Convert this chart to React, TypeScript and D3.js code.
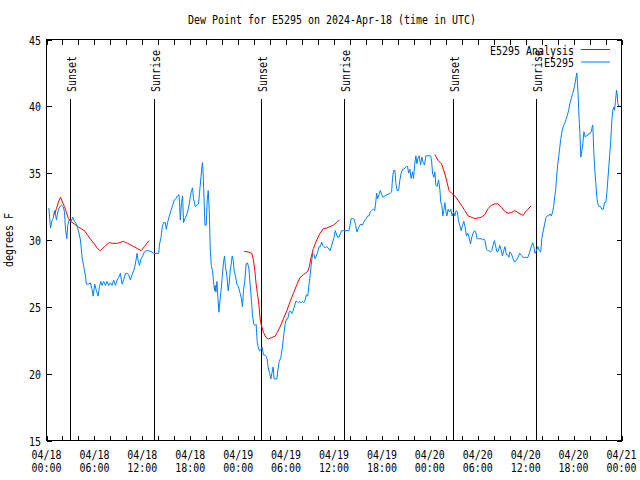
import React from 'react';
import * as d3 from 'd3';

const START = Date.UTC(2024, 3, 18, 0, 0);
const titleText = 'Dew Point for E5295 on 2024-Apr-18 (time in UTC)';
const yAxisLabel = 'degrees F';
const yTicks = [15, 20, 25, 30, 35, 40, 45];
const xMajorHours = [0, 6, 12, 18, 24, 30, 36, 42, 48, 54, 60, 66, 72];
const xMinorHours = d3.range(0, 73, 2);
const sunHours = [2.9, 13.4, 26.9, 37.3, 50.9, 61.3];
const sunLabels = ['Sunset', 'Sunrise', 'Sunset', 'Sunrise', 'Sunset', 'Sunrise'];
const legendNames = ['E5295 Analysis', 'E5295'];
const seriesColors = ['#ff0000', '#0080ff'];

// station observations: [hours since 04/18 00:00 UTC, dew point F]
const station: [number, number][] = [
  [0.29, 32.4], [0.5, 30.9], [0.71, 31.5], [0.84, 31.6], [1.0, 32.2], [1.13, 31.9], [1.25, 31.5], [1.41, 32.1],
  [1.66, 32.5], [1.88, 32.6], [2.09, 32.5], [2.25, 32.1], [2.38, 30.8], [2.54, 30.1], [2.66, 31.1], [2.84, 31.5],
  [3.09, 31.4], [3.29, 31.7], [3.5, 31.4], [3.75, 31.2], [4.04, 30.6], [4.25, 30.0], [4.46, 28.7], [4.66, 28.0],
  [4.88, 27.3], [5.0, 26.7], [5.29, 26.7], [5.5, 26.8], [5.71, 26.3], [5.84, 25.8], [6.04, 26.7], [6.25, 26.2],
  [6.46, 25.8], [6.63, 26.5], [6.79, 26.9], [6.96, 26.6], [7.16, 26.9], [7.38, 26.6], [7.59, 26.9], [7.79, 26.6],
  [8.0, 26.8], [8.21, 26.6], [8.41, 27.0], [8.63, 26.6], [8.84, 27.0], [9.04, 27.2], [9.25, 27.5], [9.46, 26.7],
  [9.66, 27.0], [9.88, 27.5], [10.09, 27.5], [10.29, 27.4], [10.5, 27.0], [10.71, 27.4], [10.91, 27.7], [11.13, 28.2],
  [11.34, 29.0], [11.46, 28.5], [11.63, 28.1], [11.84, 28.6], [12.04, 28.8], [12.25, 29.1], [12.46, 29.2], [12.79, 29.2],
  [13.21, 29.1], [13.41, 29.0], [14.04, 29.0], [14.16, 29.7], [14.34, 30.2], [14.5, 31.0], [14.66, 31.3], [14.88, 31.3],
  [15.0, 30.8], [15.16, 31.3], [15.38, 31.8], [15.59, 32.2], [15.79, 32.6], [16.0, 33.0], [16.21, 33.1], [16.41, 33.3],
  [16.59, 33.4], [16.66, 32.8], [16.75, 31.5], [16.91, 32.8], [17.04, 33.3], [17.16, 31.3], [17.34, 31.6], [17.5, 31.8],
  [17.66, 32.1], [17.88, 32.7], [18.0, 33.2], [18.16, 33.7], [18.29, 33.9], [18.41, 33.1], [18.63, 32.5], [18.84, 32.6],
  [19.04, 32.7], [19.16, 33.5], [19.34, 34.7], [19.46, 35.5], [19.54, 35.8], [19.63, 34.7], [19.75, 32.7], [19.84, 31.1],
  [20.0, 31.1], [20.13, 33.0], [20.25, 33.7], [20.38, 32.2], [20.5, 29.4], [20.63, 28.1], [20.79, 27.7], [20.91, 26.9],
  [21.04, 26.2], [21.13, 26.6], [21.21, 26.1], [21.34, 26.9], [21.46, 25.7], [21.59, 24.6], [21.71, 25.4], [21.84, 26.1],
  [22.0, 27.2], [22.16, 28.3], [22.29, 28.8], [22.41, 28.0], [22.59, 27.3], [22.75, 26.2], [22.88, 26.8], [23.0, 27.7],
  [23.13, 28.2], [23.25, 28.8], [23.38, 28.5], [23.5, 27.7], [23.66, 27.3], [23.84, 26.7], [24.04, 26.5], [24.25, 26.0],
  [24.41, 25.6], [24.54, 25.0], [24.66, 26.2], [24.84, 27.0], [25.0, 28.2], [25.16, 28.3], [25.34, 27.9], [25.5, 26.7],
  [25.66, 25.5], [25.79, 24.4], [25.96, 23.7], [26.09, 23.6], [26.25, 23.7], [26.38, 22.4], [26.5, 22.0], [26.66, 21.7],
  [26.84, 21.8], [27.0, 22.0], [27.16, 21.4], [27.34, 21.4], [27.5, 21.3], [27.63, 21.1], [27.75, 20.5], [27.91, 20.1],
  [28.09, 19.6], [28.25, 20.1], [28.38, 20.5], [28.5, 19.6], [28.71, 19.6], [28.84, 19.6], [28.96, 20.2], [29.13, 20.9],
  [29.34, 21.2], [29.54, 22.0], [29.71, 22.9], [29.88, 23.7], [30.04, 24.1], [30.21, 24.1], [30.38, 24.6], [30.54, 24.7],
  [30.71, 24.5], [30.88, 24.7], [31.04, 25.0], [31.21, 25.4], [31.38, 25.4], [31.54, 25.3], [31.71, 25.4], [31.88, 25.3],
  [32.04, 25.4], [32.21, 25.3], [32.38, 25.5], [32.54, 25.9], [32.71, 25.8], [32.88, 26.7], [33.04, 27.5], [33.21, 28.5],
  [33.34, 29.0], [33.5, 28.9], [33.63, 28.6], [33.79, 28.8], [33.96, 29.1], [34.13, 29.5], [34.29, 29.5], [34.46, 29.85],
  [34.59, 29.6], [34.75, 29.5], [34.91, 29.4], [35.09, 29.5], [35.29, 29.4], [35.5, 29.2], [35.66, 29.5], [35.84, 29.85],
  [36.0, 30.2], [36.16, 30.7], [36.29, 30.45], [36.46, 30.2], [36.63, 30.2], [36.79, 30.45], [36.96, 30.7], [37.16, 30.7],
  [37.38, 30.7], [37.88, 30.7], [38.0, 31.1], [38.13, 31.6], [38.34, 31.6], [38.54, 31.55], [38.71, 31.1], [38.88, 30.6],
  [39.04, 30.85], [39.21, 31.1], [39.38, 31.2], [39.54, 31.1], [39.71, 31.3], [39.88, 31.5], [40.04, 31.6], [40.21, 31.8],
  [40.38, 31.8], [40.54, 32.1], [40.71, 32.2], [40.91, 32.3], [41.09, 32.2], [41.21, 32.7], [41.34, 33.5], [41.46, 33.1],
  [41.63, 33.4], [41.79, 33.7], [41.96, 33.4], [42.13, 33.2], [42.38, 33.3], [42.63, 33.4], [42.88, 33.45], [43.04, 33.5],
  [43.21, 33.6], [43.34, 34.7], [43.46, 35.2], [43.63, 35.2], [43.75, 34.2], [43.91, 33.7], [44.09, 33.7], [44.25, 34.5],
  [44.41, 35.0], [44.59, 35.3], [44.75, 35.3], [44.91, 35.4], [45.09, 35.5], [45.21, 35.5], [45.34, 35.0], [45.5, 35.3],
  [45.66, 34.6], [45.84, 35.1], [45.96, 34.6], [46.09, 35.6], [46.25, 36.3], [46.38, 35.7], [46.5, 36.1], [46.66, 36.3],
  [46.84, 35.6], [47.0, 36.2], [47.16, 35.8], [47.34, 35.6], [47.5, 36.3], [47.79, 36.3], [48.09, 36.3], [48.21, 36.0],
  [48.34, 35.0], [48.5, 34.7], [48.63, 35.1], [48.75, 34.1], [48.91, 34.0], [49.09, 34.5], [49.25, 33.8], [49.38, 32.8],
  [49.5, 32.6], [49.63, 31.8], [49.75, 32.2], [49.88, 32.8], [50.0, 32.2], [50.13, 31.8], [50.29, 32.3], [50.46, 32.1],
  [50.63, 32.3], [50.79, 31.8], [50.96, 32.1], [51.13, 31.8], [51.29, 32.2], [51.46, 32.1], [51.59, 31.4], [51.75, 31.1],
  [51.91, 30.7], [52.09, 31.1], [52.25, 31.4], [52.41, 31.0], [52.59, 30.3], [52.75, 30.5], [52.91, 30.2], [53.09, 29.7],
  [53.25, 30.2], [53.41, 30.5], [53.59, 30.7], [53.75, 30.6], [53.91, 30.1], [54.09, 30.1], [54.25, 30.1], [54.41, 30.1],
  [54.59, 30.0], [54.75, 30.1], [54.91, 29.96], [55.09, 29.3], [55.25, 29.2], [55.41, 29.2], [55.59, 29.1], [55.75, 29.2],
  [55.91, 29.6], [56.09, 29.96], [56.25, 29.5], [56.41, 29.1], [56.59, 29.2], [56.75, 29.6], [56.91, 29.3], [57.09, 28.8],
  [57.25, 29.2], [57.41, 29.5], [57.59, 28.9], [57.75, 28.9], [57.91, 28.7], [58.0, 29.1], [58.21, 29.0], [58.41, 28.6],
  [58.63, 28.35], [58.84, 28.5], [59.04, 28.7], [59.25, 29.0], [59.46, 28.85], [59.66, 28.7], [59.88, 28.7], [60.09, 28.7],
  [60.29, 28.7], [60.5, 29.1], [60.71, 29.5], [60.88, 29.8], [61.0, 29.6], [61.16, 29.0], [61.34, 29.2], [61.54, 29.5],
  [61.71, 29.2], [61.88, 29.1], [62.04, 30.2], [62.21, 30.7], [62.38, 31.2], [62.54, 31.7], [62.71, 31.8], [62.88, 31.8],
  [63.04, 31.95], [63.21, 31.8], [63.38, 32.1], [63.5, 32.5], [63.63, 33.2], [63.75, 33.7], [63.88, 34.7], [64.0, 35.6],
  [64.13, 36.2], [64.25, 36.8], [64.38, 37.5], [64.54, 38.1], [64.71, 38.5], [64.88, 38.7], [65.04, 39.0], [65.21, 39.3],
  [65.38, 39.7], [65.54, 40.2], [65.71, 40.6], [65.88, 40.95], [66.04, 41.3], [66.21, 41.8], [66.34, 42.3], [66.41, 42.5],
  [66.54, 41.2], [66.66, 39.5], [66.79, 38.0], [66.91, 36.2], [67.04, 36.7], [67.16, 37.2], [67.29, 38.1], [67.46, 37.7],
  [67.59, 37.8], [67.71, 37.8], [67.88, 37.95], [68.04, 37.95], [68.21, 38.1], [68.34, 38.5], [68.41, 38.6], [68.54, 36.5],
  [68.66, 35.2], [68.79, 34.2], [68.91, 33.2], [69.04, 32.7], [69.21, 32.5], [69.38, 32.5], [69.54, 32.3], [69.71, 32.3],
  [69.88, 32.8], [70.04, 32.8], [70.16, 33.5], [70.29, 34.5], [70.41, 35.5], [70.54, 36.5], [70.66, 37.5], [70.79, 38.95],
  [70.91, 39.7], [71.04, 39.95], [71.13, 39.7], [71.25, 40.45], [71.38, 41.2], [71.46, 40.9], [71.54, 40.2], [71.66, 40.0],
  [71.79, 40.0], [71.91, 40.0],
];

// analysis (three separate segments)
const analysisA: [number, number][] = [
  [1.0, 31.9], [1.25, 32.35], [1.5, 32.85], [1.75, 33.2], [2.0, 32.85], [2.25, 32.5], [2.5, 32.05], [2.75, 31.6],
  [3.0, 31.4], [3.5, 31.2], [3.91, 31.0], [4.34, 30.85], [4.75, 30.7], [5.16, 30.35], [5.59, 30.0], [6.0, 29.7],
  [6.41, 29.35], [6.75, 29.2], [7.25, 29.5], [7.84, 29.8], [8.29, 29.75], [8.91, 29.75], [9.63, 29.9], [10.16, 29.75],
  [10.79, 29.55], [11.41, 29.35], [11.84, 29.2], [12.25, 29.5], [12.84, 29.95],
];
const analysisB: [number, number][] = [
  [24.75, 29.15], [25.29, 29.1], [25.71, 29.0], [25.91, 28.5], [26.09, 27.7], [26.25, 26.7], [26.41, 26.0], [26.59, 25.2],
  [26.75, 24.1], [26.91, 23.6], [27.16, 23.1], [27.5, 22.7], [27.79, 22.6], [28.21, 22.7], [28.63, 22.8], [28.91, 23.1],
  [29.25, 23.5], [29.66, 24.1], [30.09, 24.7], [30.5, 25.4], [30.91, 26.0], [31.34, 26.65], [31.75, 27.2], [32.16, 27.4],
  [32.71, 27.65], [32.91, 28.0], [33.13, 28.7], [33.41, 29.35], [33.84, 30.0], [34.25, 30.5], [34.66, 30.85], [35.09, 30.9],
  [35.5, 31.0], [35.91, 31.1], [36.34, 31.3], [36.66, 31.5],
];
const analysisC: [number, number][] = [
  [48.63, 36.4], [49.04, 35.96], [49.46, 35.7], [49.88, 34.96], [50.16, 34.3], [50.41, 33.7], [50.71, 33.5], [51.13, 33.3],
  [51.54, 32.97], [51.96, 32.6], [52.38, 32.2], [52.79, 31.8], [53.21, 31.7], [53.63, 31.6], [54.04, 31.65], [54.46, 31.7],
  [54.88, 31.9], [55.29, 32.34], [55.71, 32.6], [56.13, 32.7], [56.54, 32.7], [56.96, 32.45], [57.38, 32.15], [57.79, 32.0],
  [58.21, 32.05], [58.63, 32.2], [59.04, 32.05], [59.46, 31.9], [59.71, 31.85], [59.96, 32.1], [60.29, 32.3], [60.66, 32.55],
];
const analysisSegments = [analysisA, analysisB, analysisC];

const FONT = 'DejaVu Sans Mono, monospace';
const CHAR_W = 6;
const FS = 12.5;

const hourToDate = (h: number) => new Date(START + h * 3600 * 1000);

function Txt({ x, y, text, anchor = 'start', transform }: { x?: number; y?: number; text: string; anchor?: string; transform?: string }) {
  return (
    <text
      x={x}
      y={y}
      transform={transform}
      textAnchor={anchor}
      fontFamily={FONT}
      fontSize={FS}
      textLength={text.length * CHAR_W}
      lengthAdjust="spacingAndGlyphs"
      fill="#000"
    >
      {text}
    </text>
  );
}

export default function App() {
  const W = 640;
  const H = 480;
  const left = 46.5;
  const right = 621.5;
  const top = 39.5;
  const bottom = 440.5;

  const x = d3.scaleUtc().domain([hourToDate(0), hourToDate(72)]).range([left, right]);
  const y = d3.scaleLinear().domain([15, 45]).range([bottom, top]);

  const line = d3
    .line<[number, number]>()
    .x((d) => x(hourToDate(d[0])))
    .y((d) => y(d[1]));

  const fmtDate = d3.utcFormat('%m/%d');
  const fmtTime = d3.utcFormat('%H:%M');
  const tickLen = 5;

  return (
    <svg
      width={W}
      height={H}
      style={{ position: 'absolute', left: 0, top: 0, background: '#fff' }}
    >
      <rect x={0} y={0} width={W} height={H} fill="#fff" />
      <Txt x={332} y={24} text={titleText} anchor="middle" />

      {/* sun event lines */}
      {sunHours.map((h, i) => {
        const px = Math.round(x(hourToDate(h))) + 0.5;
        return (
          <g key={'sun' + i}>
            <line x1={px} x2={px} y1={99} y2={bottom} stroke="#000" strokeWidth={1} shapeRendering="crispEdges" />
            <Txt text={sunLabels[i]} anchor="start" transform={`translate(${px + 5.5},92) rotate(-90)`} />
          </g>
        );
      })}

      {/* data lines */}
      <g fill="none" strokeWidth={1}>
        <path d={line(station) || ''} stroke={seriesColors[1]} />
        {analysisSegments.map((seg, i) => (
          <path key={'an' + i} d={line(seg) || ''} stroke={seriesColors[0]} />
        ))}
      </g>

      {/* frame */}
      <rect x={left} y={top} width={right - left} height={bottom - top} fill="none" stroke="#000" strokeWidth={1} shapeRendering="crispEdges" />

      {/* x ticks */}
      {xMinorHours.map((h) => {
        const px = Math.round(x(hourToDate(h))) + 0.5;
        return (
          <g key={'xt' + h}>
            <line x1={px} x2={px} y1={bottom} y2={bottom - tickLen} stroke="#000" shapeRendering="crispEdges" />
            <line x1={px} x2={px} y1={top} y2={top + tickLen} stroke="#000" shapeRendering="crispEdges" />
          </g>
        );
      })}
      {xMajorHours.map((h) => {
        const d = hourToDate(h);
        const px = x(d);
        return (
          <g key={'xl' + h}>
            <Txt x={px} y={458.5} text={fmtDate(d)} anchor="middle" />
            <Txt x={px} y={471.5} text={fmtTime(d)} anchor="middle" />
          </g>
        );
      })}

      {/* y ticks */}
      {yTicks.map((v) => {
        const py = Math.round(y(v)) + 0.5;
        return (
          <g key={'yt' + v}>
            <line x1={left} x2={left + tickLen} y1={py} y2={py} stroke="#000" shapeRendering="crispEdges" />
            <line x1={right} x2={right - tickLen} y1={py} y2={py} stroke="#000" shapeRendering="crispEdges" />
            <Txt x={41} y={py + 4.5} text={String(v)} anchor="end" />
          </g>
        );
      })}

      <Txt text={yAxisLabel} anchor="middle" transform="translate(13,240) rotate(-90)" />

      {/* legend */}
      {legendNames.map((name, i) => (
        <g key={'lg' + i}>
          <Txt x={574} y={54.5 + i * 12.3} text={name} anchor="end" />
          <line x1={581} x2={610} y1={49.5 + i * 12.5} y2={49.5 + i * 12.5} stroke={seriesColors[i]} strokeWidth={1} />
        </g>
      ))}
    </svg>
  );
}
